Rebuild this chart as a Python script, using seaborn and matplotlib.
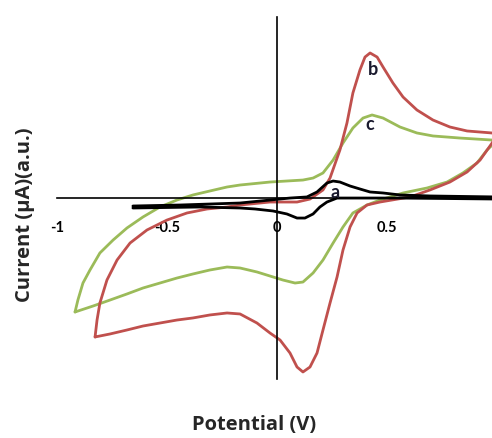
import numpy as np
import pandas as pd
import seaborn as sns
import matplotlib.pyplot as plt

# curva a (preta) - potencial (V) e corrente (u.a.), na ordem da varredura
a_x = [-0.655, -0.441, -0.168, -0.032, 0.059, 0.136, 0.182, 0.227, 0.255, 0.286, 0.332, 0.377, 0.423,
       0.482, 0.559, 0.695, 1.0,
       1.0, 0.559, 0.273, 0.227, 0.195, 0.164, 0.127, 0.091, 0.045, -0.018, -0.10, -0.168, -0.35, -0.655]
a_y = [-0.094, -0.083, -0.061, -0.028, -0.006, 0.006, 0.061, 0.160, 0.182, 0.171, 0.127, 0.094, 0.061,
       0.05, 0.028, 0.017, 0.006,
       -0.017, -0.006, -0.006, -0.05, -0.105, -0.182, -0.227, -0.227, -0.182, -0.149, -0.127, -0.116, -0.105, -0.116]

# curva b (vermelha)
b_x = [-0.827, -0.818, -0.805, -0.773, -0.727, -0.668, -0.591, -0.50, -0.409, -0.318, -0.227, -0.168,
       -0.032, 0.091, 0.15, 0.209, 0.241, 0.286, 0.318, 0.345, 0.377, 0.40, 0.423, 0.455, 0.482, 0.527,
       0.573, 0.636, 0.709, 0.786, 0.864, 0.977, 1.0,
       0.977, 0.923, 0.864, 0.786, 0.695, 0.605, 0.468, 0.409, 0.364, 0.332, 0.30, 0.273, 0.241, 0.209,
       0.182, 0.15, 0.118, 0.091, 0.059, 0.014, -0.032, -0.091, -0.168, -0.227, -0.305, -0.382, -0.455,
       -0.532, -0.609, -0.682, -0.759, -0.827]
b_y = [-1.541, -1.354, -1.166, -0.912, -0.691, -0.503, -0.359, -0.249, -0.171, -0.127, -0.105, -0.083,
       -0.050, -0.050, -0.017, 0.083, 0.215, 0.525, 0.823, 1.155, 1.409, 1.552, 1.597, 1.552, 1.442, 1.265,
       1.110, 0.967, 0.856, 0.779, 0.735, 0.713, 0.69,
       0.60, 0.414, 0.282, 0.171, 0.083, 0.006, -0.05, -0.083, -0.171, -0.326, -0.58, -0.878, -1.166, -1.464,
       -1.718, -1.873, -1.928, -1.873, -1.718, -1.575, -1.497, -1.387, -1.287, -1.276, -1.298, -1.331, -1.354,
       -1.387, -1.42, -1.464, -1.508, -1.541]

# curva c (verde)
c_x = [-0.918, -0.905, -0.882, -0.85, -0.805, -0.745, -0.682, -0.609, -0.532, -0.455, -0.382, -0.305,
       -0.227, -0.168, -0.032, 0.118, 0.164, 0.209, 0.255, 0.30, 0.345, 0.391, 0.432, 0.482, 0.559, 0.636,
       0.709, 0.832, 0.977, 1.0,
       0.955, 0.909, 0.845, 0.773, 0.682, 0.573, 0.468, 0.409, 0.345, 0.30, 0.255, 0.209, 0.164, 0.118,
       0.082, 0.027, -0.018, -0.091, -0.168, -0.227, -0.305, -0.382, -0.455, -0.532, -0.609, -0.682,
       -0.759, -0.836, -0.918]
c_y = [-1.265, -1.133, -0.945, -0.801, -0.613, -0.470, -0.337, -0.215, -0.105, -0.028, 0.028, 0.072,
       0.116, 0.138, 0.171, 0.193, 0.215, 0.271, 0.414, 0.602, 0.768, 0.878, 0.912, 0.878, 0.779, 0.713,
       0.680, 0.657, 0.635, 0.63,
       0.525, 0.381, 0.271, 0.171, 0.105, 0.050, -0.028, -0.083, -0.171, -0.326, -0.503, -0.691, -0.834, -0.934,
       -0.945, -0.912, -0.878, -0.823, -0.779, -0.768, -0.801, -0.845, -0.890, -0.945, -1.0, -1.066,
       -1.133, -1.199, -1.265]

xticks = [-1, -0.5, 0, 0.5, 1]
xtick_labels = ["-1", "-0.5", "0", "0.5", "1"]
yticks = [-2, -1, 0, 1, 2]

sns.set_style("white")
plt.rcParams['font.family'] = ['Lato', 'DejaVu Sans']

fig = plt.figure(figsize=(4.92, 4.38), dpi=100)
ax = fig.add_axes([57 / 492, 59.5 / 438, 440 / 492, 362 / 438])

dfa = pd.DataFrame({"x": a_x, "y": a_y})
dfb = pd.DataFrame({"x": b_x, "y": b_y})
dfc = pd.DataFrame({"x": c_x, "y": c_y})

kw = dict(sort=False, estimator=None, linewidth=2.0, ax=ax)
sns.lineplot(data=dfc, x="x", y="y", color="#9BBB59", **kw)
sns.lineplot(data=dfb, x="x", y="y", color="#C0504D", **kw)
sns.lineplot(data=dfa, x="x", y="y", color="black", **kw)
for ln in ax.lines:
    ln.set_solid_joinstyle('round')

ax.set_xlim(-1, 1)
ax.set_ylim(-2, 2)
ax.spines['left'].set_position(('data', 0))
ax.spines['bottom'].set_position(('data', 0))
ax.spines['top'].set_visible(False)
ax.spines['right'].set_visible(False)
for s in ['left', 'bottom']:
    ax.spines[s].set_color('black')
    ax.spines[s].set_linewidth(1.2)

ax.set_xticks(xticks)
ax.set_xticklabels(xtick_labels, fontweight='bold')
ax.set_yticks(yticks)
ax.set_yticklabels([])
ax.tick_params(axis='x', direction='out', length=5, width=1.2, pad=12, labelsize=10.5, colors='black')
ax.tick_params(axis='y', direction='out', length=5, width=1.2, colors='black')
ax.set_xlabel('')
ax.set_ylabel('')
ax.patch.set_alpha(0)

# letras das curvas
ax.text(0.436, 1.41, "b", fontsize=13, fontweight='bold', ha='center', va='center', color='#1a1a2e')
ax.text(0.423, 0.81, "c", fontsize=13, fontweight='bold', ha='center', va='center', color='#1a1a2e')
ax.text(0.262, 0.06, "a", fontsize=13, fontweight='bold', ha='center', va='center', color='#1a1a2e')

lab = ['Open Sans', 'DejaVu Sans']
fig.text(254 / 492, 1 - 425 / 438, "Potential (V)", fontsize=14.5, fontweight='bold', ha='center',
         va='center', family=lab)
fig.text(25 / 492, 1 - 215 / 438, "Current (µA)(a.u.)", fontsize=14.5, fontweight='bold', ha='center',
         va='center', rotation=90, family=lab)

fig.savefig("out.png", dpi=100)
